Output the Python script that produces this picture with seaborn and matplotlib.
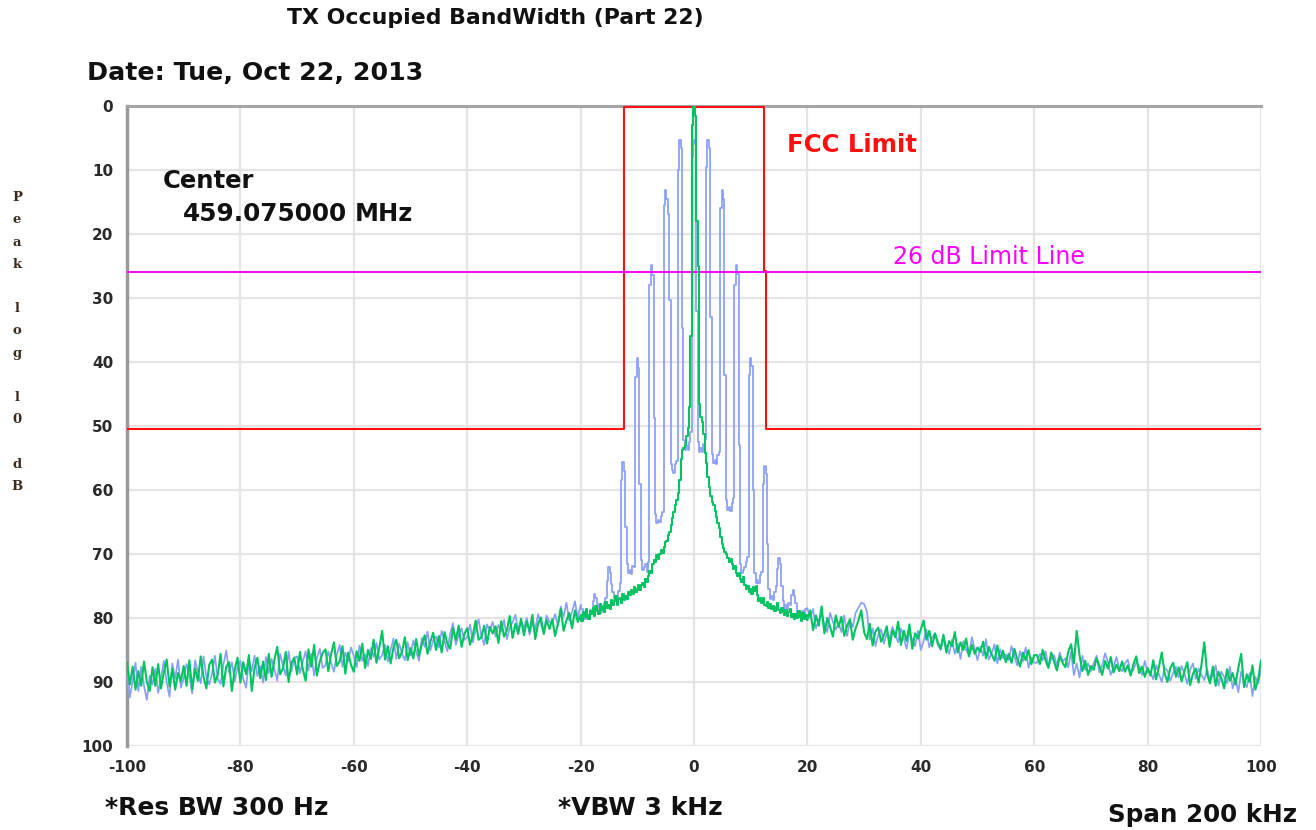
import numpy as np
import pandas as pd
import matplotlib
matplotlib.use("Agg")
import matplotlib.pyplot as plt
import seaborn as sns
from matplotlib.ticker import MultipleLocator

# ---------------- data ----------------
# frequency grids (kHz offset from centre)
freq_left = np.linspace(-100, -20.5, 160)
freq_mid = np.linspace(-20, 20, 161)
freq_right = np.linspace(20.5, 100, 160)

# green trace (carrier, unmodulated), dB below reference
green_left = [
    86.9, 90.4, 87.6, 91.2, 88.3, 90.6, 86.8, 90.0, 91.4, 87.7,
    90.6, 87.2, 91.0, 88.5, 86.5, 90.7, 87.9, 91.2, 88.6, 89.9,
    87.5, 90.6, 86.6, 91.2, 87.9, 89.8, 86.0, 89.2, 91.0, 87.3,
    86.5, 90.1, 88.9, 85.6, 90.7, 87.6, 86.9, 91.4, 88.0, 86.2,
    90.1, 86.9, 88.8, 85.8, 91.4, 87.8, 86.2, 89.4, 86.8, 89.7,
    85.6, 89.2, 86.5, 84.5, 88.8, 87.9, 85.3, 90.0, 87.0, 86.2,
    88.8, 85.3, 88.0, 89.8, 84.9, 87.6, 84.2, 89.0, 86.8, 85.5,
    84.9, 88.3, 85.6, 83.8, 87.5, 86.8, 84.4, 88.7, 85.4, 87.3,
    88.4, 85.2, 86.7, 84.0, 87.8, 85.0, 86.4, 83.4, 87.0, 84.6,
    82.0, 86.5, 84.4, 87.1, 84.6, 83.4, 86.3, 85.3, 83.0, 86.6,
    84.7, 86.3, 83.3, 85.9, 84.1, 82.7, 85.6, 83.7, 82.3, 85.0,
    82.8, 85.4, 82.2, 84.0, 84.8, 81.6, 83.4, 81.2, 84.5, 82.5,
    81.6, 84.2, 82.6, 80.4, 83.4, 83.0, 81.2, 84.0, 81.4, 82.4,
    81.3, 83.9, 80.5, 82.9, 81.9, 79.7, 83.1, 80.9, 82.5, 80.1,
    82.7, 80.5, 82.1, 79.5, 83.3, 80.9, 79.9, 82.5, 80.3, 81.7,
    80.2, 82.8, 81.0, 78.6, 82.0, 80.4, 79.2, 81.6, 78.8, 80.6,
]
green_mid = [
    79.6, 80.4, 79.1, 79.9, 78.6, 79.5, 80.1, 78.9, 79.3, 78.4,
    79.7, 78.2, 78.9, 79.4, 77.8, 78.7, 78.1, 79.0, 77.5, 78.4,
    77.9, 78.6, 77.2, 78.0, 77.4, 76.6, 77.9, 77.1, 76.8, 77.6,
    76.3, 77.2, 76.5, 77.0, 75.9, 76.4, 75.7, 76.3, 75.2, 75.9,
    75.4, 74.8, 75.6, 74.9, 74.6, 75.1, 73.9, 74.3, 73.4, 72.6,
    73.0, 71.5, 70.9, 71.3, 70.2, 70.8, 70.0, 69.3, 69.8, 68.9,
    68.2, 67.9, 67.0, 66.6, 65.5, 64.3, 63.5, 62.4, 61.6, 60.4,
    58.5, 55.2, 53.8, 53.4, 52.9, 51.5, 50.3, 47.0, 36.0, 3.0,
    0.0, 1.5, 18.0, 25.0, 46.5, 48.6, 49.4, 51.2, 54.2, 55.8,
    58.0, 59.5, 60.9, 61.8, 62.4, 63.3, 64.2, 65.1, 66.0, 67.3,
    68.4, 69.1, 69.7, 70.0, 70.6, 71.2, 70.8, 71.5, 72.3, 71.8,
    72.9, 73.4, 73.0, 73.9, 74.3, 73.6, 74.8, 75.5, 75.0, 76.0,
    75.4, 76.2, 75.1, 75.8, 75.0, 76.4, 77.3, 76.8, 77.6, 76.9,
    77.9, 78.2, 77.5, 78.4, 77.8, 78.6, 78.1, 78.9, 78.3, 77.6,
    78.7, 79.2, 78.4, 79.0, 79.5, 78.8, 79.7, 79.1, 78.6, 79.9,
    79.3, 80.2, 79.4, 80.0, 78.9, 79.8, 80.4, 79.2, 80.1, 79.5,
    80.3,
]
green_right = [
    78.8, 81.9, 79.6, 81.2, 78.2, 82.4, 80.0, 81.4, 82.9, 79.6,
    81.4, 79.8, 82.8, 81.2, 80.2, 83.4, 81.6, 80.4, 78.8, 82.2,
    83.3, 80.9, 84.3, 82.1, 81.5, 83.7, 82.7, 81.3, 84.5, 81.9,
    83.0, 80.6, 84.2, 82.0, 83.6, 81.0, 84.8, 82.4, 83.2, 81.8,
    80.4, 83.4, 82.0, 84.4, 82.4, 83.8, 84.8, 82.6, 85.4, 83.6,
    84.4, 82.2, 85.4, 83.8, 85.0, 83.2, 86.0, 84.2, 85.6, 84.6,
    85.3, 83.7, 86.3, 84.5, 85.7, 86.7, 84.3, 86.5, 85.1, 86.9,
    85.6, 87.0, 84.8, 86.4, 87.6, 85.4, 86.6, 85.0, 87.2, 85.8,
    85.8, 87.2, 85.0, 86.6, 87.8, 85.4, 86.8, 88.2, 86.0, 87.0,
    87.7, 85.3, 84.1, 87.1, 82.0, 85.9, 88.3, 86.7, 88.9, 87.5,
    88.1, 86.3, 87.5, 88.9, 86.7, 87.9, 86.1, 88.5, 87.3, 88.3,
    86.8, 88.4, 87.4, 89.0, 87.2, 86.0, 88.6, 87.6, 89.2, 87.8,
    89.0, 86.6, 89.6, 87.6, 85.4, 88.6, 90.0, 87.8, 87.0, 89.2,
    87.7, 89.9, 88.3, 86.9, 90.5, 88.7, 87.9, 90.1, 87.3, 83.8,
    88.8, 90.2, 87.6, 90.6, 88.4, 89.4, 91.0, 88.0, 89.8, 88.6,
    90.4, 87.8, 85.6, 90.8, 88.8, 90.0, 87.4, 91.2, 89.6, 86.6,
]

# blue trace (modulated, comb of sidebands every 2.5 kHz)
blue_left = [
    88.2, 92.4, 89.8, 87.0, 91.4, 87.6, 90.6, 92.8, 89.0, 90.4,
    87.9, 91.7, 89.3, 86.7, 90.1, 92.3, 87.1, 89.5, 86.5, 90.9,
    89.4, 87.2, 89.0, 91.8, 86.6, 88.4, 90.2, 86.0, 89.2, 90.4,
    88.7, 85.9, 89.5, 90.3, 87.3, 85.1, 88.5, 86.9, 89.9, 87.7,
    86.7, 89.5, 90.9, 86.5, 88.3, 85.9, 89.1, 87.5, 90.1, 86.1,
    88.6, 86.4, 88.0, 89.8, 85.6, 87.4, 89.0, 85.2, 88.4, 86.2,
    86.0, 88.6, 86.8, 85.2, 88.2, 85.6, 89.0, 86.2, 84.8, 87.8,
    87.4, 85.2, 87.0, 88.4, 85.8, 84.2, 87.6, 85.4, 86.8, 84.6,
    85.9, 87.7, 84.3, 86.7, 85.7, 87.5, 84.7, 86.1, 83.9, 86.5,
    85.8, 84.2, 86.8, 85.0, 83.2, 86.4, 84.0, 85.6, 86.6, 83.8,
    85.9, 83.5, 85.3, 86.7, 83.1, 84.5, 82.1, 85.1, 83.5, 82.9,
    84.6, 82.0, 83.6, 85.2, 82.4, 80.8, 84.2, 82.6, 81.6, 83.4,
    83.0, 81.0, 83.8, 81.8, 80.2, 82.8, 84.2, 81.0, 82.0, 80.6,
    82.9, 81.1, 82.1, 80.3, 83.3, 81.5, 80.7, 79.5, 81.9, 80.5,
    81.6, 80.0, 82.6, 80.8, 81.8, 79.4, 81.0, 82.2, 79.6, 80.6,
    80.8, 79.4, 81.2, 78.2, 79.8, 77.6, 80.4, 79.0, 77.4, 80.0,
]
blue_mid = [
    78.0, 78.6, 79.2, 80.1, 79.9, 79.5, 80.2, 78.7, 79.1, 77.3,
    76.3, 76.9, 77.8, 78.9, 79.2, 78.5, 79.0, 77.6, 76.8, 74.2,
    72.0, 72.9, 74.7, 76.0, 77.1, 76.5, 77.3, 75.8, 74.6, 58.5,
    55.7, 57.0, 65.8, 71.5, 73.0, 72.5, 73.1, 71.8, 72.0, 42.3,
    39.4, 40.9, 59.0, 71.0, 72.5, 72.0, 71.5, 72.8, 71.2, 27.9,
    24.9, 26.4, 48.8, 63.7, 65.2, 64.7, 65.0, 64.0, 63.4, 15.5,
    13.1, 14.6, 16.8, 30.3, 55.9, 56.9, 57.4, 56.0, 55.5, 10.0,
    5.3, 6.6, 34.7, 52.2, 53.7, 53.2, 53.8, 52.5, 51.0, 8.0,
    5.3, 6.0, 32.0, 52.5, 54.0, 53.5, 54.1, 52.8, 52.0, 9.5,
    5.3, 6.6, 33.0, 54.3, 55.8, 55.3, 56.0, 54.6, 54.0, 16.0,
    13.1, 14.5, 42.0, 61.6, 63.1, 62.6, 63.3, 62.0, 61.2, 28.0,
    24.9, 26.2, 53.0, 71.5, 73.0, 72.5, 72.0, 71.2, 70.5, 42.0,
    39.4, 40.6, 60.0, 73.0, 74.5, 74.0, 74.6, 73.3, 72.8, 59.0,
    56.3, 57.5, 68.5, 75.5, 77.0, 76.5, 77.2, 75.9, 75.0, 72.3,
    70.7, 71.6, 75.0, 77.4, 78.6, 78.0, 78.7, 77.6, 77.9, 76.4,
    75.6, 76.5, 77.6, 79.3, 79.6, 79.0, 79.8, 78.9, 79.5, 78.6,
    78.5,
]
blue_right = [
    80.0, 78.6, 81.6, 80.4, 79.4, 81.0, 82.2, 79.2, 80.6, 81.8,
    80.8, 82.2, 79.6, 82.8, 80.4, 81.4, 79.2, 78.4, 77.6, 77.8,
    79.0, 83.4, 81.6, 84.4, 82.6, 81.8, 84.0, 82.4, 83.2, 81.4,
    82.6, 83.8, 81.6, 83.2, 84.8, 82.2, 83.4, 84.4, 82.0, 85.0,
    83.6, 81.8, 84.6, 83.0, 82.4, 84.2, 85.0, 83.2, 84.4, 85.6,
    83.4, 85.6, 84.0, 86.4, 83.6, 85.0, 85.8, 83.0, 84.8, 86.6,
    84.5, 85.9, 83.3, 86.5, 85.5, 84.1, 87.1, 84.9, 86.3, 85.7,
    86.6, 84.4, 86.0, 87.4, 85.2, 86.8, 84.6, 87.8, 86.2, 87.0,
    87.0, 85.6, 86.6, 85.2, 87.6, 86.4, 85.8, 87.4, 85.4, 86.8,
    86.3, 87.7, 85.3, 88.9, 87.1, 89.3, 85.9, 88.1, 87.1, 88.3,
    87.1, 85.9, 88.5, 87.3, 85.5, 86.9, 88.9, 87.7, 86.1, 87.9,
    88.3, 87.1, 86.5, 88.7, 88.1, 86.9, 87.5, 88.9, 86.7, 88.5,
    88.4, 89.6, 87.4, 88.8, 90.0, 87.8, 88.2, 89.8, 88.6, 87.6,
    89.3, 87.5, 88.7, 90.3, 88.1, 87.1, 89.5, 87.9, 88.9, 89.7,
    88.0, 89.8, 89.0, 87.4, 90.6, 88.4, 89.2, 90.2, 87.6, 91.0,
    89.4, 91.6, 88.4, 90.0, 90.8, 88.6, 92.2, 89.2, 90.2, 88.2,
]

# limit lines
fcc_freq = [-100, -12.35, -12.35, 12.35, 12.35, 12.7, 12.7, 100]
fcc_level = [50.4, 50.4, 0.2, 0.2, 25.8, 25.8, 50.4, 50.4]
limit26_freq = [-100, 100]
limit26_level = [26, 26]

x_ticks = [-100, -80, -60, -40, -20, 0, 20, 40, 60, 80, 100]
y_ticks = [0, 10, 20, 30, 40, 50, 60, 70, 80, 90, 100]

# ---------------- build frames ----------------
assert len(freq_left) == len(green_left) == len(blue_left)
assert len(freq_mid) == len(green_mid) == len(blue_mid)
assert len(freq_right) == len(green_right) == len(blue_right)


def seg_frames(left_vals, mid_vals, right_vals):
    # outer noise segments drawn as plain polylines, centre comb as analyzer steps
    left = pd.DataFrame({"freq": np.append(freq_left, freq_mid[0]),
                         "level": left_vals + [mid_vals[0]]})
    mid = pd.DataFrame({"freq": freq_mid, "level": mid_vals})
    right = pd.DataFrame({"freq": np.insert(freq_right, 0, freq_mid[-1]),
                          "level": [mid_vals[-1]] + right_vals})
    return left, mid, right


blue_frames = seg_frames(blue_left, blue_mid, blue_right)
green_frames = seg_frames(green_left, green_mid, green_right)
df_fcc = pd.DataFrame({"freq": fcc_freq, "level": fcc_level})
df_26 = pd.DataFrame({"freq": limit26_freq, "level": limit26_level})

# ---------------- plot ----------------
sns.set_style("white")
plt.rcParams['font.family'] = ['DejaVu Sans']
plt.rcParams['axes.unicode_minus'] = False

W, H = 1316, 830
fig = plt.figure(figsize=(W / 100, H / 100), dpi=100)
ax = fig.add_axes([127 / W, 1 - 746 / H, (1261 - 127) / W, (746 - 106) / H])


def px(x, y):
    return x / W, 1 - y / H


BLUE = "#8a9ff7"
GREEN = "#00c462"


def draw_trace(frames, color, lw, z):
    for i, fr in enumerate(frames):
        ds = "steps-mid" if i == 1 else "default"
        sns.lineplot(data=fr, x="freq", y="level", ax=ax, color=color, lw=lw,
                     drawstyle=ds, estimator=None, sort=False, legend=False, zorder=z)


draw_trace(blue_frames, BLUE, 1.25, 3)
sns.lineplot(data=df_fcc, x="freq", y="level", ax=ax, color="#ff1010", lw=1.5,
             estimator=None, sort=False, legend=False, zorder=4)
sns.lineplot(data=df_26, x="freq", y="level", ax=ax, color="#ff00ff", lw=1.4,
             estimator=None, sort=False, legend=False, zorder=5)
draw_trace(green_frames, GREEN, 1.5, 6)

ax.set_xlim(-100, 100)
ax.set_ylim(100, 0)
ax.set_xticks(x_ticks)
ax.set_yticks(y_ticks)
ax.set_xticklabels([str(v) for v in x_ticks])
ax.set_yticklabels([str(v) for v in y_ticks])
ax.xaxis.set_minor_locator(MultipleLocator(2))
ax.yaxis.set_minor_locator(MultipleLocator(2))
ax.set_xlabel("")
ax.set_ylabel("")

ax.grid(True, which="major", color="#e4e4e4", lw=1.6)
ax.set_axisbelow(True)

ax.tick_params(axis="both", which="major", direction="out", length=8, width=1.6,
               color="#111111", labelsize=11, labelcolor="#2a2a2a", pad=2)
ax.tick_params(axis="both", which="minor", direction="out", length=5, width=1.6,
               color="#111111")
for lab in ax.get_xticklabels() + ax.get_yticklabels():
    lab.set_fontweight("bold")

for side in ["right", "bottom"]:
    ax.spines[side].set_visible(False)
ax.spines["left"].set_color("#9a9a9a")
ax.spines["left"].set_linewidth(2.5)
ax.spines["top"].set_color("#a5a5a5")
ax.spines["top"].set_linewidth(2.2)

# ---------------- text ----------------
DARK = "#111111"
fig.text(*px(495, 18), "TX Occupied BandWidth (Part 22)", ha="center", va="center",
         fontsize=15.8, fontweight="bold", color=DARK)
fig.text(*px(87, 73), "Date: Tue, Oct 22, 2013", ha="left", va="center",
         fontsize=18.2, fontweight="bold", color=DARK)
fig.text(*px(163, 181), "Center", ha="left", va="center",
         fontsize=17.5, fontweight="bold", color=DARK)
fig.text(*px(183, 214), "459.075000", ha="left", va="center",
         fontsize=17.8, fontweight="bold", color=DARK)
fig.text(*px(355, 214), "MHz", ha="left", va="center",
         fontsize=17.4, fontweight="bold", color=DARK)
fig.text(*px(787, 145), "FCC Limit", ha="left", va="center",
         fontsize=17.6, fontweight="bold", color="#ff1010")
fig.text(*px(893, 257), "26 dB Limit Line", ha="left", va="center",
         fontsize=17.0, color="#ff00ff")
fig.text(*px(105, 808), "*Res BW 300 Hz", ha="left", va="center",
         fontsize=18.0, fontweight="bold", color=DARK)
fig.text(*px(558, 808), "*VBW 3 kHz", ha="left", va="center",
         fontsize=18.0, fontweight="bold", color=DARK)
fig.text(*px(1297, 815), "Span 200 kHz", ha="right", va="center",
         fontsize=17.7, fontweight="bold", color=DARK)
fig.text(*px(17, 342), "P\ne\na\nk\n\nl\no\ng\n\nl\n0\n\nd\nB", ha="center", va="center",
         fontsize=9.5, fontweight="bold", family="DejaVu Serif", linespacing=1.92,
         color="#3a2a1a")

fig.savefig("out.png", dpi=100)
